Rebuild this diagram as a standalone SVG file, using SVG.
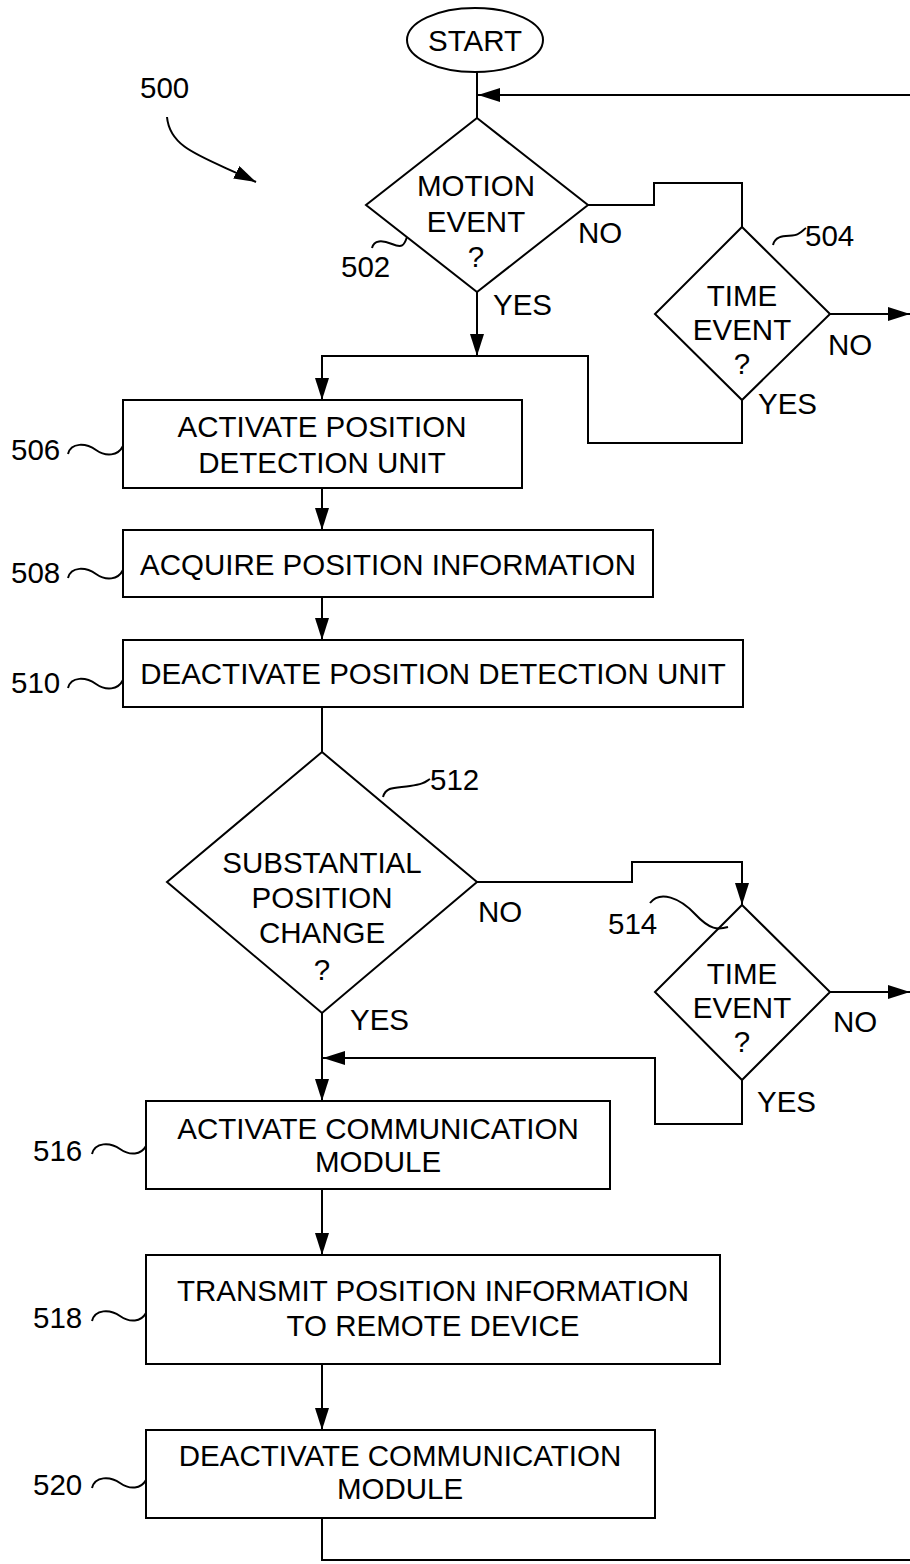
<svg xmlns="http://www.w3.org/2000/svg" width="910" height="1564" viewBox="0 0 910 1564">
<style>
.s{fill:none;stroke:#000;stroke-width:2}
.n{fill:#fff;stroke:#000;stroke-width:2}
text{font-family:"Liberation Sans",Arial,sans-serif;font-size:29.5px;fill:#000}
.c{text-anchor:middle}
</style>
<defs>
<marker id="ah" viewBox="0 0 22 14" refX="22" refY="7" markerWidth="22" markerHeight="14" markerUnits="userSpaceOnUse" orient="auto">
<path d="M0,0 L22,7 L0,14 z" fill="#000"/>
</marker>
</defs>
<rect width="910" height="1564" fill="#fff"/>
<g id="connectors">
<path class="s" d="M477,72 V118"/>
<path class="s" d="M910,95 H478" marker-end="url(#ah)"/>
<path class="s" d="M477,292 V356" marker-end="url(#ah)"/>
<path class="s" d="M588,205 H654 V183 H742 V227"/>
<path class="s" d="M830,314 H910" marker-end="url(#ah)"/>
<path class="s" d="M742,400 V443 H588 V356 H322 V400" marker-end="url(#ah)"/>
<path class="s" d="M322,488 V530" marker-end="url(#ah)"/>
<path class="s" d="M322,597 V640" marker-end="url(#ah)"/>
<path class="s" d="M322,707 V752"/>
<path class="s" d="M477,882 H632 V862 H742 V905" marker-end="url(#ah)"/>
<path class="s" d="M830,992 H910" marker-end="url(#ah)"/>
<path class="s" d="M742,1080 V1124 H655 V1058 H323" marker-end="url(#ah)"/>
<path class="s" d="M322,1013 V1101" marker-end="url(#ah)"/>
<path class="s" d="M322,1189 V1255" marker-end="url(#ah)"/>
<path class="s" d="M322,1364 V1430" marker-end="url(#ah)"/>
<path class="s" d="M322,1518 V1560 H910"/>
<path class="s" d="M167,117 C170,150 205,157 256,182" marker-end="url(#ah)"/>
</g>
<g id="label500"><text x="140" y="98">500</text></g>
<g id="start">
<ellipse class="n" cx="475" cy="40" rx="68" ry="32"/>
<text class="c" x="475" y="51">START</text>
</g>
<g id="n502">
<path class="n" d="M477,118 L588,205 L477,292 L366,205 z"/>
<text class="c" x="476" y="196">MOTION</text>
<text class="c" x="476" y="232">EVENT</text>
<text class="c" x="476" y="267">?</text>
<path class="s" d="M372,248 C374,240 382,240 392,244 S404,246 407,237"/>
<text x="341" y="277">502</text>
<text x="578" y="243">NO</text>
<text x="493" y="315">YES</text>
</g>
<g id="n504">
<path class="n" d="M742,227 L830,314 L742,400 L655,314 z"/>
<text class="c" x="742" y="306">TIME</text>
<text class="c" x="742" y="340">EVENT</text>
<text class="c" x="742" y="374">?</text>
<path class="s" d="M773,245 C776,232 792,238 798,234 S803,230 806,228"/>
<text x="805" y="246">504</text>
<text x="828" y="355">NO</text>
<text x="758" y="414">YES</text>
</g>
<g id="n506">
<rect class="n" x="123" y="400" width="399" height="88"/>
<text class="c" x="322" y="437">ACTIVATE POSITION</text>
<text class="c" x="322" y="473">DETECTION UNIT</text>
<path class="s" d="M68,454 C71,442 86,443 96,450 S118,456 123,446"/>
<text x="11" y="460">506</text>
</g>
<g id="n508">
<rect class="n" x="123" y="530" width="530" height="67"/>
<text class="c" x="388" y="575">ACQUIRE POSITION INFORMATION</text>
<path class="s" d="M68,578 C71,566 86,567 96,574 S118,580 123,570"/>
<text x="11" y="583">508</text>
</g>
<g id="n510">
<rect class="n" x="123" y="640" width="620" height="67"/>
<text class="c" x="433" y="684">DEACTIVATE POSITION DETECTION UNIT</text>
<path class="s" d="M68,688 C71,676 86,677 96,684 S118,690 123,680"/>
<text x="11" y="693">510</text>
</g>
<g id="n512">
<path class="n" d="M322,752 L477,882 L322,1013 L167,882 z"/>
<text class="c" x="322" y="873">SUBSTANTIAL</text>
<text class="c" x="322" y="908">POSITION</text>
<text class="c" x="322" y="943">CHANGE</text>
<text class="c" x="322" y="980">?</text>
<path class="s" d="M383,797 C386,786 396,788 410,786 S425,782 430,779"/>
<text x="430" y="790">512</text>
<text x="478" y="922">NO</text>
<text x="350" y="1030">YES</text>
</g>
<g id="n514">
<path class="n" d="M742,905 L830,992 L742,1080 L655,992 z"/>
<text class="c" x="742" y="984">TIME</text>
<text class="c" x="742" y="1018">EVENT</text>
<text class="c" x="742" y="1052">?</text>
<path class="s" d="M650,903 C660,890 680,898 695,914 S718,930 728,927"/>
<text x="608" y="934">514</text>
<text x="833" y="1032">NO</text>
<text x="757" y="1112">YES</text>
</g>
<g id="n516">
<rect class="n" x="146" y="1101" width="464" height="88"/>
<text class="c" x="378" y="1139">ACTIVATE COMMUNICATION</text>
<text class="c" x="378" y="1172">MODULE</text>
<path class="s" d="M92,1154 C95,1142 110,1142 120,1149 S141,1155 146,1146"/>
<text x="33" y="1161">516</text>
</g>
<g id="n518">
<rect class="n" x="146" y="1255" width="574" height="109"/>
<text class="c" x="433" y="1301">TRANSMIT POSITION INFORMATION</text>
<text class="c" x="433" y="1336">TO REMOTE DEVICE</text>
<path class="s" d="M92,1321 C95,1309 110,1309 120,1316 S141,1322 146,1313"/>
<text x="33" y="1328">518</text>
</g>
<g id="n520">
<rect class="n" x="146" y="1430" width="509" height="88"/>
<text class="c" x="400" y="1466">DEACTIVATE COMMUNICATION</text>
<text class="c" x="400" y="1499">MODULE</text>
<path class="s" d="M92,1488 C95,1476 110,1476 120,1483 S141,1489 146,1480"/>
<text x="33" y="1495">520</text>
</g>
</svg>
